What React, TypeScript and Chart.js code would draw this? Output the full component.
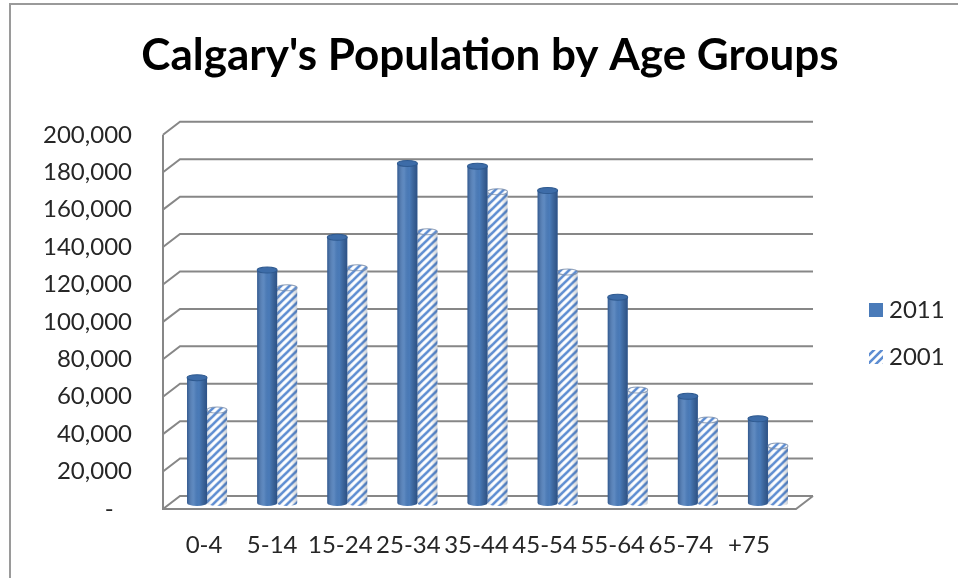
import React, { useEffect, useRef } from 'react';
import { Chart, registerables } from 'chart.js';

Chart.register(...registerables);

const chartTitle = "Calgary's Population by Age Groups";
const categories = ['0-4', '5-14', '15-24', '25-34', '35-44', '45-54', '55-64', '65-74', '+75'];
const seriesLabels = ['2011', '2001'];
const values2011 = [67000, 124500, 142000, 181500, 180000, 167000, 110000, 57000, 45000];
const values2001 = [49700, 115000, 125700, 145000, 166300, 123500, 60400, 44400, 30500];
const yMin = 0;
const yMax = 200000;
const yStep = 20000;

const FONT = 'Lato, "Open Sans", "DejaVu Sans", sans-serif';
const BLUE = '#4a7bb9';
const STRIPE = '#5d8dd2';

function makeStripePattern(): CanvasPattern | string {
  const c = document.createElement('canvas');
  c.width = 8;
  c.height = 8;
  const g = c.getContext('2d');
  if (!g) return STRIPE;
  g.fillStyle = '#ffffff';
  g.fillRect(0, 0, 8, 8);
  g.strokeStyle = STRIPE;
  g.lineWidth = 2.6;
  g.beginPath();
  g.moveTo(-2, 10); g.lineTo(10, -2);
  g.moveTo(-2, 2); g.lineTo(2, -2);
  g.moveTo(6, 10); g.lineTo(10, 6);
  g.stroke();
  return g.createPattern(c, 'repeat') || STRIPE;
}

function formatTick(v: number): string {
  if (v === 0) return '-   ';
  return v.toLocaleString('en-US');
}

export default function App() {
  const ref = useRef<HTMLCanvasElement>(null);

  useEffect(() => {
    const canvas = ref.current;
    if (!canvas) return;
    const pattern = makeStripePattern();

    const wall3d = {
      id: 'wall3d',
      beforeDatasetsDraw(chart: any) {
        const { ctx, chartArea, scales } = chart;
        const y = scales.y;
        const fl = chartArea.left - 7;
        const dx = 17;
        const dy = -13;
        const br = chartArea.right + 30;
        const fr = br - dx;
        ctx.save();
        ctx.strokeStyle = '#878787';
        ctx.lineWidth = 2;
        y.ticks.forEach((t: any) => {
          const py = y.getPixelForValue(t.value);
          ctx.beginPath();
          ctx.moveTo(fl, py);
          ctx.lineTo(fl + dx, py + dy);
          ctx.lineTo(br, py + dy);
          ctx.stroke();
        });
        const pTop = y.getPixelForValue(yMax);
        const p0 = y.getPixelForValue(yMin);
        ctx.beginPath();
        ctx.moveTo(fl, pTop);
        ctx.lineTo(fl, p0);
        ctx.lineTo(fr, p0);
        ctx.lineTo(br, p0 + dy);
        ctx.stroke();
        ctx.restore();
        // depth placement of the columns (mid-depth perspective)
        ctx.save();
        ctx.translate(-3, -6);
        ctx.scale(1.0294, 1);
      },
      afterDatasetsDraw(chart: any) {
        const { ctx } = chart;
        chart.data.datasets.forEach((_ds: any, i: number) => {
          const meta = chart.getDatasetMeta(i);
          meta.data.forEach((el: any) => {
            const { x, y, base, width } = el.getProps(['x', 'y', 'base', 'width'], true);
            const l = x - width / 2;
            const r = x + width / 2;
            const g = ctx.createLinearGradient(l, 0, r, 0);
            if (i === 0) {
              g.addColorStop(0, 'rgba(0,20,60,0.35)');
              g.addColorStop(0.35, 'rgba(255,255,255,0.10)');
              g.addColorStop(0.6, 'rgba(0,0,0,0)');
              g.addColorStop(1, 'rgba(0,20,60,0.40)');
            } else {
              g.addColorStop(0, 'rgba(40,60,90,0.18)');
              g.addColorStop(0.35, 'rgba(255,255,255,0.0)');
              g.addColorStop(0.7, 'rgba(0,0,0,0)');
              g.addColorStop(1, 'rgba(40,60,90,0.22)');
            }
            ctx.beginPath();
            ctx.ellipse(x, base, width / 2, 3, 0, 0, Math.PI);
            ctx.fillStyle = i === 0 ? BLUE : pattern;
            ctx.fill();
            ctx.fillStyle = g;
            ctx.fill();
            ctx.fillStyle = g;
            ctx.fillRect(l, y, width, base - y);
            ctx.beginPath();
            ctx.ellipse(x, y, width / 2, 3, 0, 0, Math.PI * 2);
            if (i === 0) {
              ctx.fillStyle = '#3d6ca8';
              ctx.fill();
              ctx.strokeStyle = '#2f5a90';
              ctx.lineWidth = 1;
              ctx.stroke();
            } else {
              ctx.fillStyle = pattern;
              ctx.fill();
              ctx.strokeStyle = 'rgba(120,140,170,0.8)';
              ctx.lineWidth = 1;
              ctx.stroke();
            }
          });
        });
        ctx.restore();
      },
      afterDraw(chart: any) {
        const { ctx } = chart;
        const items = chart.data.datasets;
        const rowsY = [310, 357];
        ctx.save();
        items.forEach((ds: any, i: number) => {
          const cy = rowsY[i];
          ctx.fillStyle = ds.backgroundColor;
          ctx.fillRect(869, cy - 7, 14, 14);
          ctx.fillStyle = '#262626';
          ctx.font = '24px ' + FONT;
          ctx.textBaseline = 'middle';
          ctx.textAlign = 'left';
          ctx.fillText(ds.label, 889, cy);
        });
        ctx.restore();
      },
    };

    const chart = new Chart(canvas, {
      type: 'bar',
      data: {
        labels: categories,
        datasets: [
          { label: seriesLabels[0], data: values2011, backgroundColor: BLUE, borderWidth: 0 },
          { label: seriesLabels[1], data: values2001, backgroundColor: pattern as any, borderWidth: 0 },
        ],
      },
      options: {
        responsive: false,
        animation: false,
        devicePixelRatio: 1,
        layout: { padding: { left: 22, right: 0, top: 0, bottom: 0 } },
        datasets: { bar: { categoryPercentage: 0.571, barPercentage: 1 } },
        plugins: {
          legend: { display: false },
          tooltip: { enabled: false },
          title: {
            display: true,
            text: chartTitle,
            color: '#000',
            font: { family: FONT, size: 44, weight: 'bold', lineHeight: 1.2 },
            padding: { top: 29, bottom: 53 },
          },
        },
        scales: {
          x: {
            grid: { display: false, drawTicks: false },
            border: { display: false },
            ticks: { color: '#262626', font: { family: FONT, size: 24 }, padding: 22, maxRotation: 0, autoSkip: false },
            afterFit: (s: any) => { s.height = 69; },
          },
          y: {
            min: yMin,
            max: yMax,
            grid: { display: false, drawTicks: false },
            border: { display: false },
            ticks: {
              stepSize: yStep,
              color: '#262626',
              font: { family: FONT, size: 24 },
              padding: 38,
              callback: (v: any) => formatTick(Number(v)),
            },
            afterFit: (s: any) => { s.width = 148; },
          },
          y2: {
            position: 'right',
            display: true,
            grid: { display: false, drawTicks: false },
            border: { display: false },
            ticks: { display: false },
            afterFit: (s: any) => { s.width = 175; },
          },
        },
      },
      plugins: [wall3d],
    });
    return () => chart.destroy();
  }, []);

  return (
    <div style={{ position: 'fixed', left: 0, top: 0, width: 958, height: 578, background: '#fff', overflow: 'hidden' }}>
      <canvas ref={ref} width={958} height={578} style={{ display: 'block' }} />
      <div
        style={{
          position: 'absolute', left: 9, top: 3, right: -10, bottom: -10,
          borderTop: '2px solid #9a9a9a', borderLeft: '2px solid #9a9a9a', pointerEvents: 'none',
        }}
      />
    </div>
  );
}
